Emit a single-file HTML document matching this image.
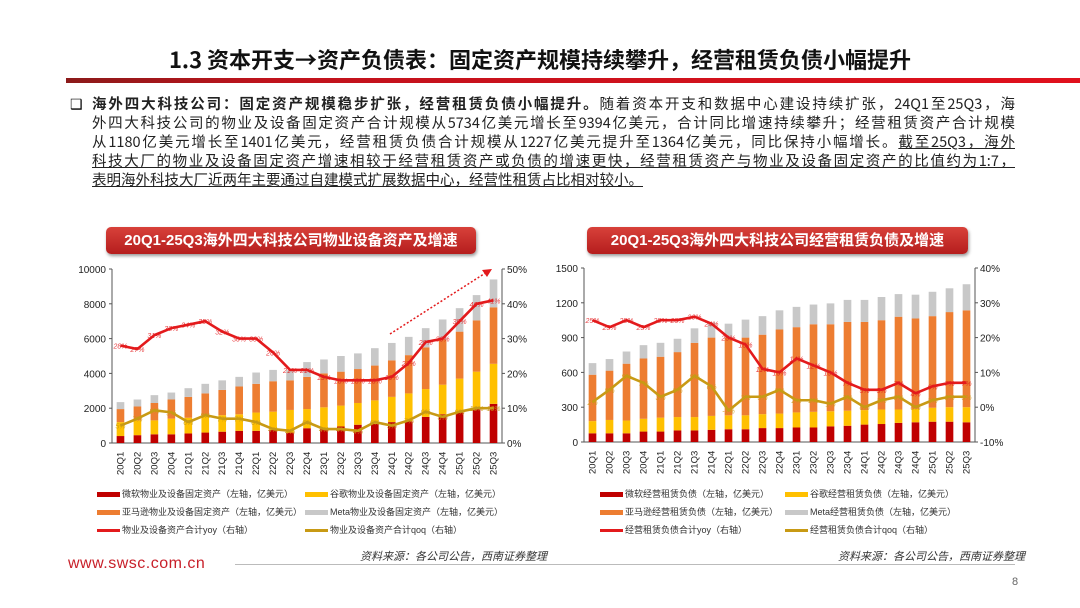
<!DOCTYPE html>
<html><head><meta charset="utf-8">
<style>
body{margin:0;width:1080px;height:608px;background:#fff;position:relative;overflow:hidden;font-family:"Liberation Sans","Noto Sans CJK SC",sans-serif;}
.abs{position:absolute;}
#title{left:0;width:1080px;top:43px;text-align:center;font-size:22px;font-weight:bold;color:#111;font-family:"Noto Sans CJK SC","Liberation Sans",sans-serif;}
#rule{left:66px;top:78px;width:1014px;height:5px;background:linear-gradient(90deg,#8b1a1a 0%,#c0131c 20%,#e0101c 100%);}
#body{left:92px;top:94px;width:923px;font-size:14.5px;line-height:19px;color:#222;font-family:"Noto Sans CJK SC","Liberation Sans",sans-serif;}
#body div{text-align:justify;text-align-last:justify;white-space:nowrap;}
#body div.last{text-align-last:left;}
.ctitle{top:227px;height:27px;border-radius:5px;background:linear-gradient(#d8413a,#b51d1d);color:#fff;font-weight:bold;font-size:15px;line-height:27px;text-align:center;box-shadow:1px 2px 3px #999;}
.leg{font-size:9px;color:#333;white-space:nowrap;}
.sw{display:inline-block;width:23px;height:5px;vertical-align:middle;margin-right:2px;}
.src{font-size:11px;font-style:italic;color:#333;}
</style></head><body>
<div class="abs" id="title">1.3 资本开支→资产负债表：固定资产规模持续攀升，经营租赁负债小幅提升</div>
<div class="abs" id="rule"></div>
<div class="abs" style="left:70px;top:96px;font-size:14px;">❑</div>
<div class="abs" id="body">
<div><b>海外四大科技公司：固定资产规模稳步扩张，经营租赁负债小幅提升。</b>随着资本开支和数据中心建设持续扩张，24Q1至25Q3，海</div>
<div>外四大科技公司的物业及设备固定资产合计规模从5734亿美元增长至9394亿美元，合计同比增速持续攀升；经营租赁资产合计规模</div>
<div>从1180亿美元增长至1401亿美元，经营租赁负债合计规模从1227亿美元提升至1364亿美元，同比保持小幅增长。<u>截至25Q3，海外</u></div>
<div><u>科技大厂的物业及设备固定资产增速相较于经营租赁资产或负债的增速更快，经营租赁资产与物业及设备固定资产的比值约为1:7，</u></div>
<div class="last"><u>表明海外科技大厂近两年主要通过自建模式扩展数据中心，经营性租赁占比相对较小。</u></div>
</div>

<div class="abs ctitle" style="left:106px;width:370px;">20Q1-25Q3海外四大科技公司物业设备资产及增速</div>
<div class="abs ctitle" style="left:587px;width:381px;">20Q1-25Q3海外四大科技公司经营租赁负债及增速</div>

<svg class="abs" id="c1" style="left:0;top:0" width="1080" height="608"></svg>

<div class="abs leg" style="left:97px;top:487px;"><span class="sw" style="background:#c00000"></span>微软物业及设备固定资产（左轴，亿美元）</div>
<div class="abs leg" style="left:305px;top:487px;"><span class="sw" style="background:#ffc000"></span>谷歌物业及设备固定资产（左轴，亿美元）</div>
<div class="abs leg" style="left:97px;top:505px;"><span class="sw" style="background:#ed7d31"></span>亚马逊物业及设备固定资产（左轴，亿美元）</div>
<div class="abs leg" style="left:305px;top:505px;"><span class="sw" style="background:#c8c8c8"></span>Meta物业及设备固定资产（左轴，亿美元）</div>
<div class="abs leg" style="left:97px;top:523px;"><span class="sw" style="background:#e31a1c;height:3px"></span>物业及设备资产合计yoy（右轴）</div>
<div class="abs leg" style="left:305px;top:523px;"><span class="sw" style="background:#c89a14;height:3px"></span>物业及设备资产合计qoq（右轴）</div>

<div class="abs leg" style="left:600px;top:487px;"><span class="sw" style="background:#c00000"></span>微软经营租赁负债（左轴，亿美元）</div>
<div class="abs leg" style="left:785px;top:487px;"><span class="sw" style="background:#ffc000"></span>谷歌经营租赁负债（左轴，亿美元）</div>
<div class="abs leg" style="left:600px;top:505px;"><span class="sw" style="background:#ed7d31"></span>亚马逊经营租赁负债（左轴，亿美元）</div>
<div class="abs leg" style="left:785px;top:505px;"><span class="sw" style="background:#c8c8c8"></span>Meta经营租赁负债（左轴，亿美元）</div>
<div class="abs leg" style="left:600px;top:523px;"><span class="sw" style="background:#e31a1c;height:3px"></span>经营租赁负债合计yoy（右轴）</div>
<div class="abs leg" style="left:785px;top:523px;"><span class="sw" style="background:#c89a14;height:3px"></span>经营租赁负债合计qoq（右轴）</div>

<div class="abs src" style="left:360px;top:548px;">资料来源：各公司公告，西南证券整理</div>
<div class="abs src" style="left:838px;top:548px;">资料来源：各公司公告，西南证券整理</div>
<div class="abs" style="left:68px;top:555px;font-size:16px;color:#c8202a;letter-spacing:0.5px;">www.swsc.com.cn</div>
<div class="abs" style="left:235px;top:564px;width:780px;height:1px;background:#bbb;"></div>
<div class="abs" style="left:1012px;top:576px;font-size:11px;color:#666;">8</div>

<script>
const categories=["20Q1","20Q2","20Q3","20Q4","21Q1","21Q2","21Q3","21Q4","22Q1","22Q2","22Q3","22Q4","23Q1","23Q2","23Q3","23Q4","24Q1","24Q2","24Q3","24Q4","25Q1","25Q2","25Q3"];
const ppeMsft=[400,450,500,500,550,600,650,700,700,750,600,850,800,950,1050,1100,1200,1250,1500,1650,1750,2000,2250];
const ppeGoog=[800,850,800,900,900,1000,950,950,1050,1050,1300,1100,1250,1200,1250,1350,1450,1600,1600,1700,1950,2100,2300];
const ppeAmzn=[750,800,1000,1100,1200,1250,1450,1600,1650,1750,1700,1850,1950,1950,1950,2000,2100,2200,2400,2600,2700,2950,3250];
const ppeMeta=[400,400,450,400,500,550,550,550,650,650,580,850,800,900,900,1000,1000,1050,1100,1150,1350,1450,1600];
const ppeYoy=[28,27,31,33,34,35,32,30,30,26,21,21,19,18,18,18,19,23,29,30,35,40,41];
const ppeQoq=[5,7,9.4,8.8,6,8,7,7,6,4,3.5,6,4,4,3.5,6,5,6.5,9,7.5,9,10,10];
const leaseMsft=[75,75,75,90,90,100,100,105,110,110,120,120,125,125,135,140,150,155,165,170,175,175,170];
const leaseGoog=[105,115,110,110,120,115,115,120,120,120,120,125,130,135,130,130,125,125,115,115,120,125,130];
const leaseAmzn=[400,425,490,520,525,560,640,675,670,670,685,725,735,755,750,765,760,770,800,780,790,820,835];
const leaseMeta=[100,100,105,115,120,115,125,130,120,155,160,165,175,170,180,190,190,200,195,205,210,205,225];
const leaseYoy=[25,23,25,23,25,25,26,24,20,18,11,10,14,12,10,7,5,5,7,4,6,7,7];
const leaseQoq=[1.5,5,9,7,3,5,9,6,-1,3,3,5,2,2,1,3,0,2,3,0,2,3,3];
const leftTicks=[0,2000,4000,6000,8000,10000];
const leftPct=[0,10,20,30,40,50];
const rightTicks=[0,300,600,900,1200,1500];
const rightPct=[-10,0,10,20,30,40];

const svg=document.getElementById('c1');
const NS='http://www.w3.org/2000/svg';
function mk(tag,attrs,txt){const e=document.createElementNS(NS,tag);for(const k in attrs)e.setAttribute(k,attrs[k]);if(txt!==undefined)e.textContent=txt;svg.appendChild(e);return e;}

function chart(cfg){
  const {x0,x1,yTop,yBot,lt,rt,stacks,yoy,qoq,prefix}=cfg;
  const n=categories.length, step=(x1-x0)/n;
  const xc=i=>x0+step*(i+0.5);
  const yl=v=>yBot-(v-lt[0])/(lt[lt.length-1]-lt[0])*(yBot-yTop);
  const yr=v=>yBot-(v-rt[0])/(rt[rt.length-1]-rt[0])*(yBot-yTop);
  let a=mk('line',{x1:x0,y1:yTop,x2:x0,y2:yBot,stroke:'#555'});
  
  a=mk('line',{x1:x1,y1:yTop,x2:x1,y2:yBot,stroke:'#555'});
  
  a=mk('line',{x1:x0,y1:yBot,x2:x1,y2:yBot,stroke:'#555'});
  
  lt.forEach(v=>{const t=mk('text',{x:x0-6,y:yl(v)+4,'text-anchor':'end','font-size':10,fill:'#222'},v);
    
    mk('line',{x1:x0-3,y1:yl(v),x2:x0,y2:yl(v),stroke:'#555'});});
  rt.forEach(v=>{const t=mk('text',{x:x1+5,y:yr(v)+4,'font-size':10,fill:'#222'},v+'%');
    
    mk('line',{x1:x1,y1:yr(v),x2:x1+3,y2:yr(v),stroke:'#555'});});
  const cols=['#c00000','#ffc000','#ed7d31','#c8c8c8'];
  const bw=step*0.45;
  categories.forEach((c,i)=>{
    let acc=0;
    stacks.forEach((s,k)=>{
      const r=mk('rect',{x:xc(i)-bw/2,y:yl(acc+s[i]),width:bw,height:yl(acc)-yl(acc+s[i]),fill:cols[k]});
      
      acc+=s[i];
    });
    const t=mk('text',{transform:`translate(${xc(i)+3},${yBot+32}) rotate(-90)`,'font-size':9.5,fill:'#222'},c);
    
  });
  [[qoq,'#c89a14','qoq'],[yoy,'#e31a1c','yoy']].forEach(([arr,col,nm])=>{
    const p=mk('polyline',{points:arr.map((v,i)=>xc(i)+','+yr(v)).join(' '),fill:'none',stroke:col,'stroke-width':2.6,'stroke-linejoin':'round'});
    
    arr.forEach((v,i)=>{const t=mk('text',{x:xc(i),y:yr(v)+3,'text-anchor':'middle','font-size':7,'font-style':'italic',fill:col,opacity:0.85},Math.round(v)+'%');
      });
  });
  return {xc,yl,yr};
}
chart({x0:112,x1:502,yTop:269,yBot:443,lt:leftTicks,rt:leftPct,stacks:[ppeMsft,ppeGoog,ppeAmzn,ppeMeta],yoy:ppeYoy,qoq:ppeQoq,prefix:'ppe'});
chart({x0:584,x1:975,yTop:268,yBot:442,lt:rightTicks,rt:rightPct,stacks:[leaseMsft,leaseGoog,leaseAmzn,leaseMeta],yoy:leaseYoy,qoq:leaseQoq,prefix:'lease'});
const ar=mk('line',{x1:390,y1:334,x2:487,y2:272,stroke:'#e31a1c','stroke-width':1.5,'stroke-dasharray':'2,2'});

const ah=mk('polygon',{points:'492,269 482,270 487,277',fill:'#e31a1c'});

</script>
</body></html>
